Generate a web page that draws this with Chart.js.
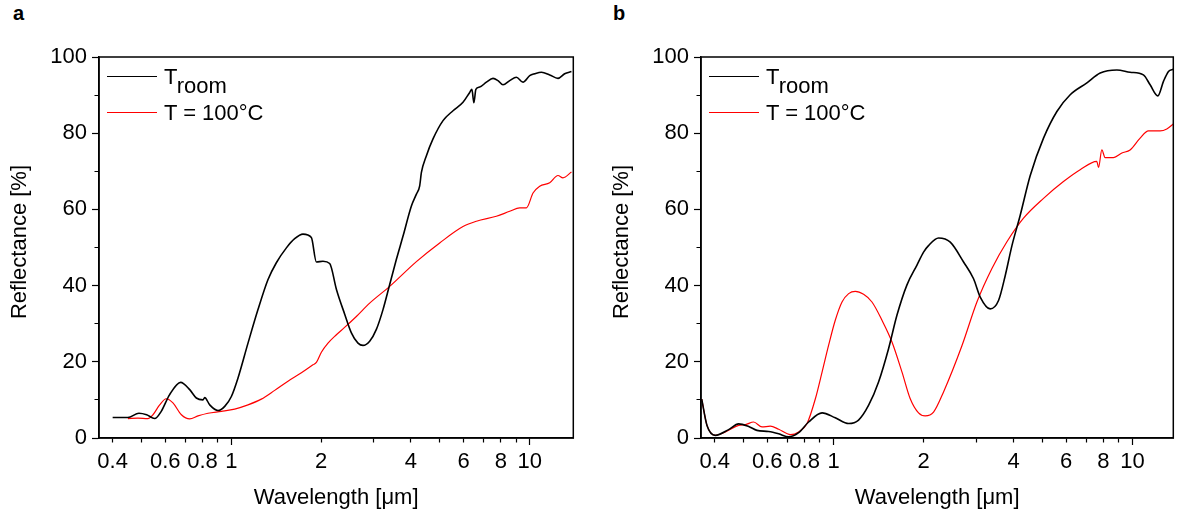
<!DOCTYPE html>
<html lang="en">
<head>
<meta charset="UTF-8">
<title>Reflectance spectra</title>
<script src="https://cdn.jsdelivr.net/npm/chart.js"></script>
<style>
  body { margin: 0; background: #fff; font-family: "Liberation Sans", Arial, sans-serif; }
  .panel { position: absolute; top: 0; height: 516px; }
  #pa { left: 0; width: 590px; }
  #pb { left: 602px; width: 577px; }
  .tag { position: absolute; top: 2px; font-weight: bold; font-size: 20px; }
  .swatch { position: absolute; left: 107px; width: 50px; }
  .label { position: absolute; left: 164px; font-size: 22px; line-height: 22px; white-space: nowrap; }
  .label span { position: relative; top: 9px; }
</style>
</head>
<body>
<div class="tag" style="left:13px">a</div>
<div class="tag" style="left:613px">b</div>
<div class="panel" id="pa"><canvas id="chartA"></canvas></div>
<div class="panel" id="pb"><canvas id="chartB"></canvas></div>

<script>
// axis ticks
var xTicks = [0.4, 0.5, 0.6, 0.7, 0.8, 0.9, 1, 2, 3, 4, 5, 6, 7, 8, 9, 10];
var xLabels = [0.4, 0.6, 0.8, 1, 2, 4, 6, 8, 10];
var xMajor = [1, 10];

// panel a - room temperature
var aRoomX = [0.40, 0.45, 0.49, 0.52, 0.553, 0.582, 0.621, 0.676, 0.725, 0.763, 0.803, 0.814, 0.846, 0.902, 0.95, 1.0, 1.052, 1.137, 1.228, 1.327, 1.415, 1.529, 1.63, 1.738, 1.854, 1.927, 2.028, 2.136, 2.25, 2.398, 2.525, 2.657, 2.762, 2.908, 3.062, 3.223, 3.394, 3.574, 3.762, 4.013, 4.171, 4.278, 4.335, 4.506, 4.741, 5.122, 5.534, 5.976, 6.294, 6.4, 6.5, 6.6, 6.799, 7.159, 7.534, 7.83, 8.137, 8.57, 9.025, 9.495, 10.0, 10.39, 10.95, 11.67, 12.44, 13.1, 13.8];
var aRoomY = [5.4, 5.4, 6.5, 6.1, 5.1, 7.0, 11.4, 14.6, 12.7, 10.5, 10.0, 10.6, 8.7, 7.2, 8.3, 10.9, 15.7, 24.9, 33.7, 41.6, 46.0, 49.9, 52.3, 53.5, 52.6, 46.2, 46.4, 45.8, 39.0, 32.5, 27.6, 24.9, 24.3, 25.4, 28.5, 33.7, 40.3, 46.9, 53.0, 60.9, 64.0, 66.2, 69.7, 74.1, 78.5, 83.3, 85.9, 88.1, 90.7, 91.5, 88.0, 91.5, 92.1, 93.4, 94.4, 93.8, 92.7, 93.8, 94.7, 93.4, 95.1, 95.6, 96.0, 95.3, 94.4, 95.6, 96.2];

// panel a - 100 C
var aHotX = [0.45, 0.486, 0.525, 0.546, 0.575, 0.605, 0.637, 0.68, 0.725, 0.773, 0.835, 0.926, 1.026, 1.137, 1.26, 1.397, 1.548, 1.717, 1.877, 1.93, 2.003, 2.108, 2.249, 2.386, 2.624, 2.908, 3.394, 4.171, 4.992, 5.976, 6.628, 7.73, 8.57, 9.26, 9.75, 10.26, 10.8, 11.67, 12.44, 12.93, 13.8];
var aHotY = [5.1, 5.2, 5.1, 6.1, 8.7, 10.3, 9.2, 6.1, 5.0, 5.8, 6.5, 7.0, 7.6, 8.7, 10.2, 12.5, 14.9, 17.1, 19.2, 19.9, 22.5, 24.9, 27.1, 28.9, 31.9, 35.4, 39.8, 46.3, 51.2, 55.5, 56.9, 58.2, 59.5, 60.4, 60.4, 64.3, 66.1, 67.0, 68.9, 68.3, 69.8];

// panel b - room temperature
var bRoomX = [0.362, 0.377, 0.402, 0.4455, 0.481, 0.52, 0.554, 0.606, 0.655, 0.707, 0.764, 0.825, 0.915, 1.013, 1.123, 1.212, 1.31, 1.414, 1.528, 1.629, 1.76, 1.901, 2.0, 2.078, 2.245, 2.457, 2.722, 2.94, 3.095, 3.342, 3.564, 3.752, 3.952, 4.21, 4.55, 5.04, 5.587, 6.19, 7.04, 7.8, 8.87, 9.82, 10.88, 11.46, 12.16, 12.7, 13.2, 13.7];
var bRoomY = [10.2, 3.3, 0.7, 2.2, 3.7, 3.0, 2.0, 1.7, 1.1, 0.3, 1.4, 4.2, 6.6, 5.3, 3.8, 4.7, 8.6, 14.7, 23.5, 32.2, 40.2, 45.4, 48.8, 50.5, 52.5, 51.4, 46.2, 41.8, 37.0, 33.9, 36.1, 42.6, 50.5, 58.4, 68.9, 78.7, 85.7, 90.1, 93.2, 95.8, 96.6, 96.0, 95.3, 92.7, 89.8, 93.6, 96.2, 96.8];

// panel b - 100 C
var bHotX = [0.362, 0.377, 0.402, 0.4345, 0.481, 0.507, 0.54, 0.576, 0.614, 0.655, 0.717, 0.764, 0.815, 0.869, 0.915, 0.962, 1.013, 1.067, 1.123, 1.182, 1.26, 1.344, 1.452, 1.568, 1.694, 1.805, 1.924, 2.026, 2.16, 2.333, 2.688, 3.017, 3.387, 3.802, 4.32, 5.04, 5.877, 6.684, 7.6, 7.7, 7.9, 8.1, 8.64, 9.22, 9.82, 10.61, 11.31, 12.38, 13.03, 13.7];
var bHotY = [10.2, 3.3, 0.7, 1.6, 3.3, 3.5, 4.2, 2.9, 3.1, 2.3, 0.9, 1.6, 3.8, 10.3, 17.3, 24.3, 30.9, 35.7, 37.9, 38.5, 37.7, 35.7, 30.9, 25.2, 17.3, 10.3, 6.6, 5.8, 6.8, 12.1, 24.2, 35.7, 44.5, 51.5, 57.7, 62.9, 67.3, 70.4, 72.6, 71.0, 75.6, 73.6, 73.6, 74.8, 75.6, 78.7, 80.6, 80.6, 81.1, 82.4];

var seriesNames = ['T_room', 'T = 100\u00b0C'];
var seriesColors = ['#000000', '#ff0000'];
var seriesWidths = [1.6, 1.2];

var font = 'Liberation Sans, Arial, sans-serif';

function pts(xs, ys) {
    return xs.map(function (x, i) { return { x: x, y: ys[i] }; });
}

// box around the plot area
var frame = {
    id: 'frame',
    afterDraw: function (chart) {
        var a = chart.chartArea, ctx = chart.ctx;
        ctx.save();
        ctx.strokeStyle = '#000';
        ctx.lineWidth = 1.5;
        ctx.strokeRect(a.left, a.top, a.right - a.left, a.bottom - a.top);
        ctx.restore();
    }
};

function makeChart(id, xMax, rightPad, roomX, roomY, hotX, hotY) {
    var sets = [pts(roomX, roomY), pts(hotX, hotY)];
    return new Chart(document.getElementById(id), {
        type: 'line',
        data: {
            datasets: sets.map(function (d, i) {
                return {
                    label: seriesNames[i],
                    data: d,
                    borderColor: seriesColors[i],
                    borderWidth: seriesWidths[i],
                    pointRadius: 0,
                    cubicInterpolationMode: 'monotone',
                    fill: false
                };
            })
        },
        options: {
            responsive: true,
            maintainAspectRatio: false,
            animation: false,
            layout: { padding: { top: 57, right: rightPad, left: 0, bottom: 0 } },
            plugins: { legend: { display: false }, tooltip: { enabled: false } },
            scales: {
                x: {
                    type: 'logarithmic',
                    bounds: 'data',
                    min: 0.36,
                    max: xMax,
                    afterBuildTicks: function (s) {
                        s.ticks = xTicks.map(function (v) { return { value: v }; });
                    },
                    afterFit: function (s) { s.height = 78; },
                    ticks: {
                        autoSkip: false, maxRotation: 0, minRotation: 0, padding: 4,
                        color: '#000', font: { family: font, size: 22 },
                        callback: function (v) { return xLabels.indexOf(v) >= 0 ? String(v) : ''; }
                    },
                    grid: {
                        drawOnChartArea: false, tickLength: 7, tickWidth: 1.2, tickColor: '#000',
                        tickBorderDash: function (c) { return xMajor.indexOf(c.tick.value) >= 0 ? [] : [4, 20]; }
                    },
                    border: { color: '#000', width: 1.5 },
                    title: {
                        display: true, text: 'Wavelength [\u03bcm]', color: '#000',
                        font: { family: font, size: 22 }, padding: { top: 0, bottom: 5 }
                    }
                },
                y: {
                    min: 0,
                    max: 100,
                    afterFit: function (s) { s.width = 99; },
                    ticks: {
                        stepSize: 10, autoSkip: false, padding: 5,
                        color: '#000', font: { family: font, size: 22 },
                        callback: function (v) { return v % 20 === 0 ? v : ''; }
                    },
                    grid: {
                        drawOnChartArea: false, tickLength: 7, tickWidth: 1.2, tickColor: '#000',
                        tickBorderDash: function (c) { return c.tick.value % 20 === 0 ? [] : [0, 2.5, 4, 20]; }
                    },
                    border: { color: '#000', width: 1.5 },
                    title: {
                        display: true, text: '\u2002Reflectance [%]', color: '#000',
                        font: { family: font, size: 22 }, padding: { top: 7, bottom: 0 }
                    }
                }
            }
        },
        plugins: [frame]
    });
}

// legend drawn as html so the subscript stays real text
function addLegend(panelId, chart) {
    var panel = document.getElementById(panelId);
    chart.data.datasets.forEach(function (ds, i) {
        var y = 77 + i * 36;
        var sw = document.createElement('div');
        sw.className = 'swatch';
        sw.style.top = (y - ds.borderWidth / 2) + 'px';
        sw.style.borderTop = ds.borderWidth + 'px solid ' + ds.borderColor;
        panel.appendChild(sw);
        var lb = document.createElement('div');
        lb.className = 'label';
        lb.style.top = (y - 11.5) + 'px';
        var parts = ds.label.split('_');
        lb.textContent = parts[0];
        if (parts[1]) {
            var sub = document.createElement('span');
            sub.textContent = parts[1];
            lb.appendChild(sub);
        }
        panel.appendChild(lb);
    });
}

var chartA = makeChart('chartA', 14.0, 16.7, aRoomX, aRoomY, aHotX, aHotY);
var chartB = makeChart('chartB', 13.7, 5.7, bRoomX, bRoomY, bHotX, bHotY);
addLegend('pa', chartA);
addLegend('pb', chartB);
</script>
</body>
</html>
